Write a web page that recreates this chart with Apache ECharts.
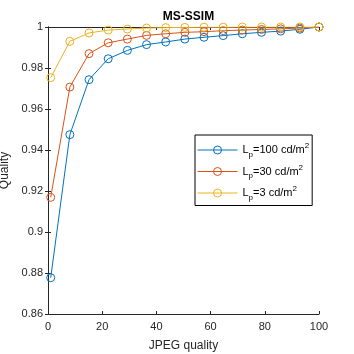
<!DOCTYPE html>
<html>
<head>
<meta charset="utf-8">
<script src="https://cdn.jsdelivr.net/npm/echarts@6/dist/echarts.min.js"></script>
<style>
html,body{margin:0;padding:0;background:#fff;}
#main{width:354px;height:354px;}
</style>
</head>
<body>
<div id="main"></div>
<script>
// JPEG quality levels (x)
const quality = [1, 8.07, 15.14, 22.21, 29.29, 36.36, 43.43, 50.5, 57.57, 64.64, 71.71, 78.79, 85.86, 92.93, 100];
// MS-SSIM per peak luminance
const lp100 = [0.8777, 0.9475, 0.9743, 0.9845, 0.9886, 0.9914, 0.9927, 0.9941, 0.995, 0.9958, 0.9967, 0.9974, 0.998, 0.9989, 1];
const lp30 = [0.9169, 0.9707, 0.987, 0.9923, 0.9941, 0.9959, 0.9967, 0.9974, 0.9977, 0.9982, 0.9985, 0.9988, 0.9991, 0.9995, 1];
const lp3 = [0.9753, 0.993, 0.9971, 0.9985, 0.999, 0.9995, 0.9997, 0.9998, 0.9999, 0.9999, 1, 1, 1, 1, 1];
const seriesNames = ['100', '30', '3'];
const xTicks = [0, 20, 40, 60, 80, 100];
const yTicks = [0.86, 0.88, 0.9, 0.92, 0.94, 0.96, 0.98, 1];

const colors = ['#0072BD', '#D95319', '#EDB120'];
const font = 'Helvetica, Arial, "Liberation Sans", sans-serif';
const axisCol = '#262626';

let chart = echarts.init(document.getElementById('main'));

function pairs(ys) {
	return quality.map((x, i) => [x, ys[i]]);
}

function mkSeries(name, ys, c) {
	return {
		name: name,
		type: 'line',
		data: pairs(ys),
		symbol: 'circle',
		symbolSize: 8,
		showAllSymbol: true,
		lineStyle: {color: c, width: 1},
		itemStyle: {color: 'rgba(255,255,255,0)', borderColor: c, borderWidth: 1},
		emphasis: {disabled: true},
		animation: false
	};
}

let baseAxis = {
	axisLine: {show: true, lineStyle: {color: axisCol, width: 1}},
	axisTick: {show: true, inside: true, length: 3, lineStyle: {color: axisCol}},
	splitLine: {show: false},
	axisLabel: {color: axisCol, fontFamily: font, fontSize: 11}
};

let option = {
	backgroundColor: '#fff',
	title: {
		text: 'MS-SSIM',
		left: 183.5,
		textAlign: 'center',
		top: 6,
		textStyle: {fontFamily: font, fontSize: 12, fontWeight: 'bold', color: '#000'}
	},
	grid: {left: 48, right: 35, top: 27, bottom: 40, outerBoundsMode: 'none', containLabel: false},
	legend: {
		orient: 'vertical',
		left: 195,
		top: 135,
		itemWidth: 40,
		itemHeight: 10,
		itemGap: 5,
		itemTextGap: 3,
		padding: [7, 3, 4, 2],
		borderColor: '#000',
		borderWidth: 1,
		backgroundColor: '#fff',
		data: seriesNames,
		lineStyle: {width: 1},
		itemStyle: {borderWidth: 1},
		formatter: function (n) {
			return '{b|L}{s|p}{b|=' + n + ' cd/m}{u|2}';
		},
		textStyle: {
			fontFamily: font,
			fontSize: 11,
			color: '#000',
			rich: {
				b: {fontFamily: font, fontSize: 11, color: '#000', lineHeight: 17},
				s: {fontFamily: font, fontSize: 8, color: '#000', padding: [9, 0, 0, 0]},
				u: {fontFamily: font, fontSize: 8, color: '#000', padding: [0, 0, 8, 0]}
			}
		}
	},
	xAxis: [
		Object.assign({}, baseAxis, {
			type: 'value', min: 0, max: 100, interval: 20,
			name: 'JPEG quality', nameLocation: 'middle', nameGap: 26,
			nameTextStyle: {fontFamily: font, fontSize: 12, color: axisCol},
			axisLabel: {color: axisCol, fontFamily: font, fontSize: 11, margin: 7,
				customValues: xTicks}
		}),
		Object.assign({}, baseAxis, {
			type: 'value', min: 0, max: 100, interval: 20, position: 'top',
			axisLabel: {show: false}
		})
	],
	yAxis: [
		Object.assign({}, baseAxis, {
			type: 'value', min: 0.86, max: 1, interval: 0.02,
			name: 'Quality', nameLocation: 'middle', nameGap: 29,
			nameTextStyle: {fontFamily: font, fontSize: 12, color: axisCol},
			axisLabel: {color: axisCol, fontFamily: font, fontSize: 11, margin: 5,
				formatter: v => String(+v.toFixed(2))}
		}),
		Object.assign({}, baseAxis, {
			type: 'value', min: 0.86, max: 1, interval: 0.02, position: 'right',
			axisLabel: {show: false}
		})
	],
	series: [
		mkSeries(seriesNames[0], lp100, colors[0]),
		mkSeries(seriesNames[1], lp30, colors[1]),
		mkSeries(seriesNames[2], lp3, colors[2])
	]
};

chart.setOption(option);
</script>
</body>
</html>
